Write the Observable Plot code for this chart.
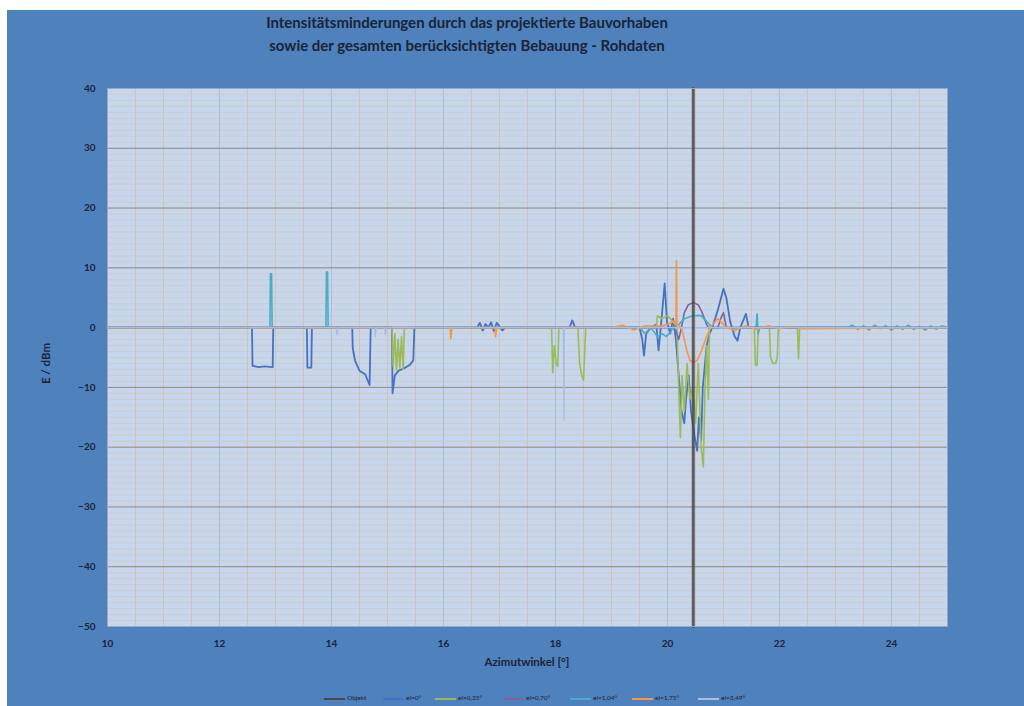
<!DOCTYPE html>
<html><head><meta charset="utf-8">
<script src="https://cdn.jsdelivr.net/npm/d3@7"></script>
<script src="https://cdn.jsdelivr.net/npm/@observablehq/plot@0.6"></script>
<style>
body{margin:0;background:#fff;width:1024px;height:706px;overflow:hidden;font-family:Lato,"Open Sans",sans-serif;}
#panel{position:absolute;left:7px;top:10px;width:1017px;height:696px;background:#4f81bd;}
.title{position:absolute;left:0;width:920px;text-align:center;font-weight:bold;font-size:15px;color:#1b2436;}
#chart{position:absolute;left:0;top:50px;}
.axlab{position:absolute;font-weight:bold;font-size:11.5px;color:#1b2436;white-space:nowrap;}
.leg{position:absolute;top:684px;height:10px;font-size:6.5px;color:#1b2436;}
.leg span.ln{position:absolute;top:4px;height:0;}
.leg span.tx{position:absolute;top:0;white-space:nowrap;}
</style></head>
<body>
<div id="panel">
  <div class="title" style="top:3px">Intensitätsminderungen durch das projektierte Bauvorhaben</div>
  <div class="title" style="top:26px">sowie der gesamten berücksichtigten Bebauung - Rohdaten</div>
  <div id="chart"></div>
  <div class="axlab" style="left:520px;top:645px;transform:translateX(-50%)">Azimutwinkel [°]</div>
  <div class="axlab" style="left:38px;top:347px;transform:translate(-50%,0) rotate(-90deg);transform-origin:center">E / dBm</div>
  <div id="legend"></div>
</div>
<script>
const seriesNames = ["Objekt","el=0°","el=0,35°","el=0,70°","el=1,04°","el=1,75°","el=3,49°"];
const seriesColors = ["#484848","#4472c4","#9bbb59","#8064a2","#4bacc6","#f79646","#a9bbe8"];
const xTicks = [10,12,14,16,18,20,22,24];
const yTicks = [40,30,20,10,0,-10,-20,-30,-40,-50];

const objektX = [20.46,20.46];
const objektY = [-50,40];

const el0X = [10,12.58,12.59,12.7,12.8,12.95,12.96,13.56,13.57,13.64,13.65,14.37,14.38,14.42,14.5,14.6,14.68,14.7,15.08,15.09,15.13,15.2,15.3,15.4,15.46,15.48,16.6,16.65,16.7,16.75,16.8,16.85,16.9,16.95,17.0,17.05,17.1,18.25,18.3,18.35,19.5,19.55,19.58,19.62,19.7,19.8,19.84,19.88,19.95,19.99,20.05,20.1,20.15,20.2,20.25,20.3,20.33,20.38,20.42,20.48,20.53,20.56,20.6,20.63,20.7,20.75,20.8,20.9,21.0,21.05,21.12,21.2,21.25,21.3,21.4,21.45,25];
const el0Y = [0,0,-6.4,-6.6,-6.5,-6.6,0,0,-6.7,-6.7,0,0,-3.5,-5.5,-7.2,-7.8,-9.6,0,0,-11,-8,-7.2,-6.8,-6.2,-5.5,0,0,0.8,-0.5,0.6,0,0.9,-0.6,0.8,0.2,-0.5,0,0,1.2,0,0,-2,-4.7,-1,0,0.5,-3.8,0,7.4,1,-1,1.5,-2,-8,-14,-16,-12,-8,-14,-18,-20.6,-15,-19,-10,-3,-1,0,3,6.5,5,1,-1.5,-2.2,0,2.3,0,0];

const el035X = [10,15.08,15.1,15.13,15.16,15.19,15.22,15.25,15.28,15.3,17.93,17.95,17.98,18.01,18.04,18.06,18.4,18.43,18.47,18.5,18.54,19.8,19.82,19.9,20.0,20.1,20.17,20.2,20.23,20.26,20.3,20.35,20.4,20.45,20.5,20.55,20.6,20.64,20.67,20.7,20.73,20.75,21.55,21.57,21.6,21.62,21.82,21.84,21.88,21.93,21.96,21.98,22.32,22.34,22.36,25];
const el035Y = [0,0,-6.5,-1,-7.2,-2,-6.8,-1.5,-7,0,0,-7.5,-3,-6,-6.5,0,0,-6,-8,-8.8,0,0,2,1.5,2,1,0,-10,-18.4,-8,-14,-6,-12,-10,-16,-6,-20,-23.3,-10,-3,-12,0,0,-6.3,-6.3,0,0,-5,-6,-6,-5,0,0,-5.2,0,0];

const el070X = [10,20.1,20.15,20.2,20.25,20.3,20.37,20.46,20.55,20.62,20.7,20.73,20.9,20.95,21.0,21.05,25];
const el070Y = [0,0,-0.5,-2,0,2.5,3.8,4.2,3.8,2.5,0.5,0,0,1.5,2.5,0,0];

const el104X = [10,12.9,12.91,12.93,12.94,13.9,13.91,13.93,13.94,19.5,19.6,19.7,19.82,19.9,19.98,20.05,20.1,20.2,20.3,20.45,20.6,20.7,20.8,21.58,21.6,21.62,21.65,23.2,23.3,23.4,23.5,23.6,23.7,23.8,23.9,24.0,24.1,24.2,24.3,24.4,24.5,24.6,24.7,24.8,24.9,25];
const el104Y = [0,0,9,9,0,0,9.3,9.3,0,0,-1,0,-1.5,-1,-1.5,-0.8,0,0.5,1.5,2,2,1,0,0,2.3,-1,0,0,0.4,-0.3,0.3,-0.4,0.4,-0.2,0.3,-0.4,0.3,-0.3,0.4,-0.3,0.2,-0.4,0.3,-0.3,0.3,0];

const el175X = [10,16.12,16.13,16.15,16.92,16.93,16.95,19.0,19.2,19.4,19.6,19.8,20.0,20.1,20.15,20.16,20.17,20.25,20.3,20.35,20.4,20.46,20.53,20.6,20.7,20.77,20.85,20.9,20.95,21.05,21.2,21.4,21.6,21.8,22.0,22.2,22.4,25];
const el175Y = [0,0,-1.9,0,0,-1.5,0,0,0.4,-0.4,0.3,0.2,0.5,1,0.5,11.2,0.5,0,-2,-4,-5.5,-5.8,-5.5,-4,-1.5,0,1,1.5,1,0,-0.5,0.3,-0.3,0.3,-0.2,0.2,-0.2,0];

const el349X = [10,14.08,14.1,14.12,14.77,14.78,14.8,14.95,14.96,14.98,18.14,18.15,18.16,25];
const el349Y = [0,0,-1.2,0,0,-1.5,0,0,-1.2,0,0,-15.5,0,0];

function rows(xs, ys, name){ return xs.map((x,i)=>({x, y: ys[i], name})); }
const data = [
  rows(el0X, el0Y, seriesNames[1]),
  rows(el035X, el035Y, seriesNames[2]),
  rows(el070X, el070Y, seriesNames[3]),
  rows(el104X, el104Y, seriesNames[4]),
  rows(el175X, el175Y, seriesNames[5]),
  rows(el349X, el349Y, seriesNames[6])
];
const objekt = rows(objektX, objektY, seriesNames[0]);

const minorX = d3.range(10, 25.001, 0.5);
const minorY = d3.range(-50, 40.001, 1);

const chart = Plot.plot({
  width: 1017, height: 616,
  marginLeft: 100, marginRight: 77, marginTop: 28, marginBottom: 50,
  style: {background: "transparent", fontFamily: "Lato, 'Open Sans', sans-serif", fontSize: "10px", fontWeight: "bold", color: "#1b2436"},
  x: {domain: [10, 25], ticks: xTicks, tickSize: 0, tickPadding: 13, label: null},
  y: {domain: [-50, 40], ticks: yTicks, tickSize: 0, tickPadding: 12, label: null},
  marks: [
    Plot.frame({fill: "#c6d6ec", stroke: null}),
    Plot.ruleY(minorY, {stroke: "#d0cbc8", strokeWidth: 1}),
    Plot.ruleX(minorX, {stroke: "#cbc5c0", strokeWidth: 1}),
    Plot.ruleX(xTicks, {stroke: "#a9bee0", strokeWidth: 1}),
    Plot.ruleY(yTicks, {stroke: "#948a80", strokeWidth: 1}),
    ...data.map((d, i) => Plot.line(d, {x: "x", y: "y", stroke: seriesColors[i+1], strokeWidth: i === 0 ? 1.8 : (i === 5 ? 1.2 : 1.6), strokeLinejoin: "round"})),
    Plot.line(objekt, {x: "x", y: "y", stroke: seriesColors[0], strokeWidth: 3, strokeOpacity: 0.85}),
    Plot.frame({stroke: "#9aa8bc", strokeWidth: 1})
  ]
});
document.getElementById("chart").appendChild(chart);

// legend
const legX = [317, 376, 428, 496, 563, 625, 691];
const leg = document.getElementById("legend");
seriesNames.forEach((n, i) => {
  const d = document.createElement("div");
  d.className = "leg";
  d.style.left = legX[i] + "px";
  d.innerHTML = `<span class="ln" style="left:0;width:21px;border-top:2px solid ${seriesColors[i]}"></span><span class="tx" style="left:23px">${n}</span>`;
  leg.appendChild(d);
});
</script>
</body></html>
